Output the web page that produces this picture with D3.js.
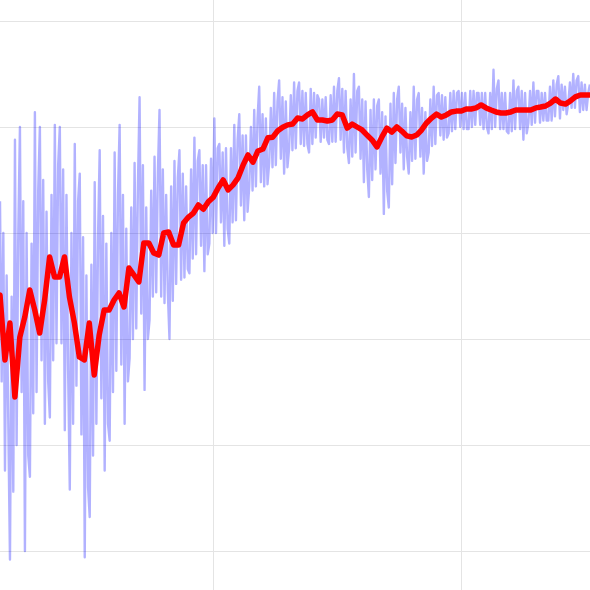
<!doctype html>
<html>
  <head>
    <meta charset="utf-8">
    <title>Reward curve</title>
    <style>
      html, body { margin: 0; padding: 0; background: #fff; }
      .grid line { stroke: #e4e4e4; stroke-width: 1; shape-rendering: crispEdges; }
      .grid .domain { display: none; }
      .grid text { display: none; }
    </style>
    <script src="https://d3js.org/d3.v7.min.js"></script>
  </head>
  <body>
    <svg width="590" height="590"></svg>

    <script>
      // episodes on x, reward on y
      var xTicks = [1000, 2000];
      var yTicks = [0, 50, 100, 150, 200, 250];

      // raw reward, one point every 6.7 episodes from episode 141
      var rawStart = 141, rawStep = 6.7;
      var rawReward = [
        165, 80, 150, 38, 130, 60,     -4, 120, 28, 194, 50, 150,     200, 75, 165, 0, 150, 45,
        35, 145, 65, 207, 75, 170,     200, 90, 175, 60, 160, 80,     63, 168, 90, 201, 98, 182,
        200, 98, 180, 57, 168, 85,     29, 150, 60, 192, 78, 165,     178, 55, 148, -3, 130, 30,
        16, 135, 45, 174, 60, 148,     189, 72, 158, 38, 145, 60,     52, 150, 75, 188, 85, 168,
        201, 88, 168, 60, 152, 80,     91, 162, 100, 183, 105, 172,   214, 112, 182, 76, 162, 100,
        109, 170, 120, 186, 122, 178,  208, 120, 180, 117, 168, 122,  100, 172, 118, 184, 126, 176,
        189, 128, 178, 129, 172, 133,  131, 180, 138, 195, 140, 184,  189, 144, 182, 132, 182, 140,
        145, 185, 150, 204, 150, 190,  192, 155, 188, 144, 190, 152,  145, 190, 155, 201, 156, 194,
        206, 163, 196, 156, 196, 160,  172, 200, 170, 208, 172, 204,  219, 174, 206, 172, 204, 173,
        183, 209, 181, 216, 182, 212,  222, 185, 214, 178, 212, 181,  190, 215, 189, 221, 190, 217,
        221, 192, 217, 191, 216, 192,  188, 218, 192, 216, 195, 215,  213, 193, 213, 195, 214, 194,
        192, 215, 193, 219, 193, 217,  223, 194, 218, 188, 217, 190,  183, 213, 186, 225, 188, 217,
        219, 185, 213, 174, 212, 180,  167, 208, 175, 213, 180, 210,  213, 178, 207, 159, 205, 170,
        162, 211, 173, 216, 183, 213,  219, 188, 211, 180, 209, 186,  178, 207, 184, 219, 185, 213,
        216, 186, 209, 178, 207, 184,  188, 213, 191, 219, 192, 215,  216, 196, 215, 194, 214, 195,
        197, 216, 198, 217, 199, 216,  217, 200, 216, 199, 216, 199,  199, 217, 200, 217, 201, 216,
        216, 201, 216, 199, 216, 200,  197, 216, 199, 227, 200, 218,  222, 199, 216, 199, 216, 198,
        197, 216, 198, 222, 199, 217,  219, 199, 217, 194, 216, 197,  202, 217, 201, 221, 202, 217,
        217, 202, 216, 203, 216, 203,  203, 219, 203, 222, 205, 220,  224, 204, 220, 208, 219, 206,
        211, 221, 209, 225, 209, 222,  224, 207, 221, 208, 220, 208,  216, 220
      ];

      // smoothed reward, one point every 20 episodes from episode 141
      var smoothStart = 141, smoothStep = 20;
      var smoothReward = [
        120.8, 90.1, 107.5, 72.6, 100.9, 110.4, 123.1, 113.7, 102.8, 118.4,
        138.7, 129.2, 129.2, 138.7, 119.8, 107.5, 91.5, 90.1, 107.5, 83.0,
        101.9, 113.7, 113.7, 118.4, 121.7, 115.1, 133.5, 130.2, 126.9, 145.3,
        145.3, 140.6, 139.6, 150.0, 150.5, 144.3, 144.3, 154.7, 157.5, 159.4,
        163.2, 161.2, 164.7, 166.9, 171.3, 175.0, 170.3, 172.7, 176.0, 182.0,
        186.8, 183.4, 188.7, 189.6, 194.9, 195.2, 198.2, 199.9, 201.0, 201.4,
        204.2, 203.8, 205.7, 207.1, 203.3, 203.3, 202.8, 203.3, 206.1, 205.7,
        199.5, 201.4, 200.0, 198.6, 196.2, 193.9, 190.6, 195.3, 199.5, 197.6,
        200.0, 198.1, 195.8, 195.3, 196.2, 198.6, 201.9, 204.2, 206.1, 204.7,
        205.7, 207.1, 207.5, 207.5, 208.5, 208.5, 209.0, 210.4, 209.0, 208.0,
        207.1, 206.6, 206.6, 207.1, 208.0, 208.0, 208.0, 208.0, 209.0, 209.4,
        209.9, 211.3, 213.2, 211.3, 210.8, 212.3, 214.2, 215.1, 215.1, 215.1
      ];

      var svg = d3.select("svg"),
          wid = +svg.attr("width"),
          ht = +svg.attr("height");

      var x = d3.scaleLinear().domain([141, 2520]).range([0, wid]);
      var y = d3.scaleLinear().domain([-18.4, 259.9]).range([ht, 0]);

      // grid
      svg.append("g")
          .attr("class", "grid")
          .attr("transform", "translate(0," + ht + ")")
          .call(d3.axisBottom(x).tickValues(xTicks).tickSize(-ht).tickFormat(""));

      svg.append("g")
          .attr("class", "grid")
          .call(d3.axisLeft(y).tickValues(yTicks).tickSize(-wid).tickFormat(""))
          .selectAll("line").attr("x1", 0).attr("x2", wid);

      var rawLine = d3.line()
          .x(function(d, i) { return x(rawStart + i * rawStep); })
          .y(function(d) { return y(d); });

      var smoothLine = d3.line()
          .x(function(d, i) { return x(smoothStart + i * smoothStep); })
          .y(function(d) { return y(d); });

      svg.append("path")
          .datum(rawReward)
          .attr("fill", "none")
          .attr("stroke", "blue")
          .attr("stroke-opacity", 0.3)
          .attr("stroke-width", 2.4)
          .attr("stroke-linejoin", "round")
          .attr("d", rawLine);

      svg.append("path")
          .datum(smoothReward)
          .attr("fill", "none")
          .attr("stroke", "red")
          .attr("stroke-width", 5.5)
          .attr("stroke-linejoin", "round")
          .attr("stroke-linecap", "round")
          .attr("d", smoothLine);
    </script>
  </body>
</html>
